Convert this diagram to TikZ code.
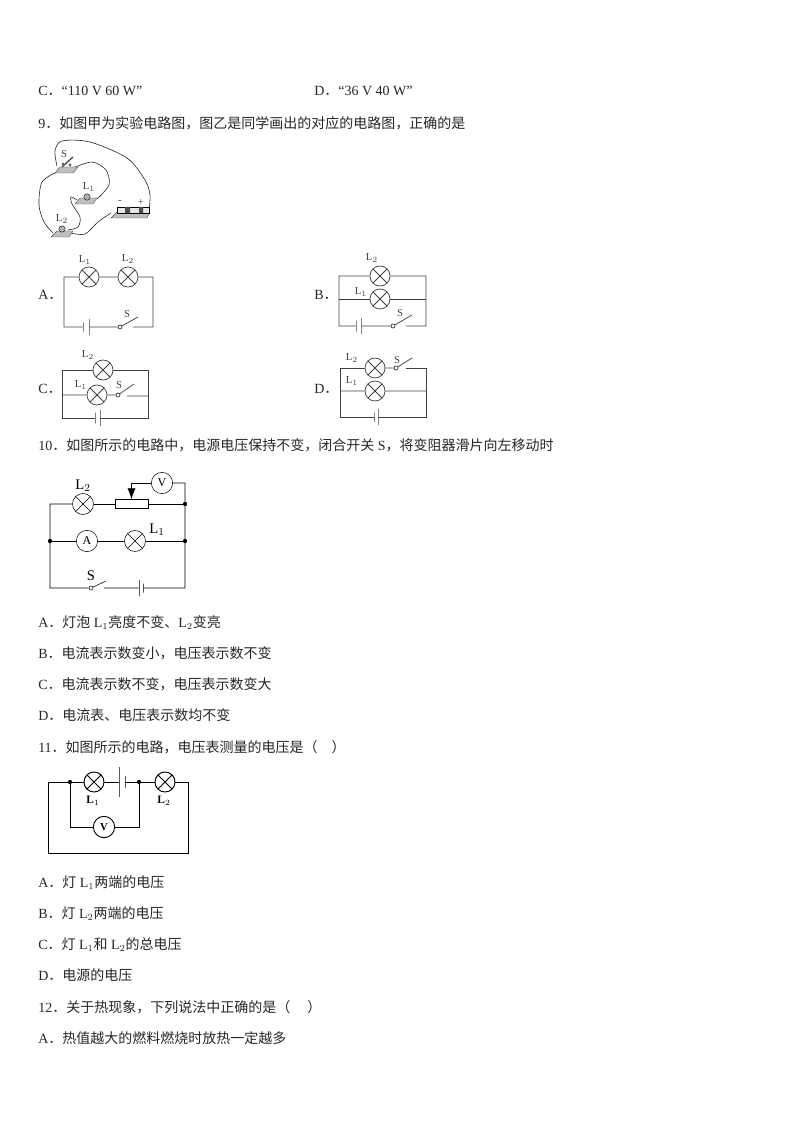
\documentclass[tikz,border=0pt]{standalone}
\usepackage{fontspec}
\setmainfont{Liberation Serif}
\newfontfamily\cjk{Noto Sans CJK SC}
\newfontfamily\lat{Liberation Serif}
\newcommand{\lw}[1]{{\lat #1}}
\usetikzlibrary{arrows.meta}
\tikzset{
  txt/.style={anchor=base west,inner sep=0pt,font=\cjk\fontsize{10.5}{12}\selectfont,text=black!85},
  lab/.style={inner sep=0pt,font=\lat\fontsize{8}{9}\selectfont,text=black!75},
  biglab/.style={inner sep=0pt,font=\lat\fontsize{11}{12}\selectfont},
  wire/.style={line width=.55pt,draw=black!75},
  lamp/.style={circle,draw,inner sep=0pt,minimum size=#1*.75pt,
    path picture={\draw (path picture bounding box.north west)--(path picture bounding box.south east)
      (path picture bounding box.north east)--(path picture bounding box.south west);}},
  lamp/.default=20,
  meter/.style={circle,draw,inner sep=0pt,minimum size=16pt,font=\lat\fontsize{9}{9}\selectfont},
  plate/.style={draw,inner sep=0pt,minimum width=0pt,minimum height=#1*.75pt},
  pivot/.style={circle,draw,fill=white,inner sep=0pt,minimum size=3pt},
  dot/.style={circle,fill=black,inner sep=0pt,minimum size=3.2pt},
  base/.style={draw=black!70,fill=black!25,line width=.3pt},
  lead/.style={line width=.45pt,draw=black!85}
}
\begin{document}
\begin{tikzpicture}[x=.75pt,y=-.75pt]
\useasboundingbox (0,0) rectangle (794,1123);

% text lines
\node[txt] (tc) at (38,96) {\lw{C}．\lw{“110 V 60 W”}};
\node[txt] (td) at (314,96) {\lw{D}．\lw{“36 V 40 W”}};
\node[txt] (t9) at (38,129) {\lw{9}．如图甲为实验电路图，图乙是同学画出的对应的电路图，正确的是};
\node[txt] (ta) at (38,299) {\lw{A}．};
\node[txt] (tb) at (314,299) {\lw{B}．};
\node[txt] (tcc) at (38,393) {\lw{C}．};
\node[txt] (tdd) at (314,393) {\lw{D}．};
\node[txt] (t10) at (38,450) {\lw{10}．如图所示的电路中，电源电压保持不变，闭合开关\lw{ S}，将变阻器滑片向左移动时};
\node[txt] (t10a) at (38,627) {\lw{A}．灯泡\lw{ L$_1$}亮度不变、\lw{L$_2$}变亮};
\node[txt] (t10b) at (38,658) {\lw{B}．电流表示数变小，电压表示数不变};
\node[txt] (t10c) at (38,689) {\lw{C}．电流表示数不变，电压表示数变大};
\node[txt] (t10d) at (38,720) {\lw{D}．电流表、电压表示数均不变};
\node[txt] (t11) at (38,752) {\lw{11}．如图所示的电路，电压表测量的电压是（\quad）};
\node[txt] (t11a) at (38,887) {\lw{A}．灯\lw{ L$_1$}两端的电压};
\node[txt] (t11b) at (38,918) {\lw{B}．灯\lw{ L$_2$}两端的电压};
\node[txt] (t11c) at (38,949) {\lw{C}．灯\lw{ L$_1$}和\lw{ L$_2$}的总电压};
\node[txt] (t11d) at (38,980) {\lw{D}．电源的电压};
\node[txt] (t12) at (38,1012) {\lw{12}．关于热现象，下列说法中正确的是（\quad\ ）};
\node[txt] (t12a) at (38,1043) {\lw{A}．热值越大的燃料燃烧时放热一定越多};

% apparatus sketch
\draw[lead] plot[smooth] coordinates {(57,166)(55,151)(62,141)(90,142)(127,158)(145,180)(150,195)(149,210)};
\draw[lead] plot[smooth] coordinates {(57,172)(42,182)(39,205)(44,222)(53,233)};
\draw[lead] plot[smooth] coordinates {(73,168)(92,162)(106,170)(109,185)(97,199)};
\draw[lead] plot[smooth] coordinates {(77,200)(71,197)(72,204)(80,217)(78,227)(68,230)};
\draw[lead] plot[smooth] coordinates {(70,233)(85,234)(98,222)(111,213)};
\draw[base] (55,173)--(60,167)--(78,167)--(73,173)--cycle;
\draw[base] (75,204)--(80,198)--(97,198)--(93,204)--cycle;
\draw[base] (111,218)--(117,212)--(150,212)--(147,218)--cycle;
\draw[base] (51,237)--(57,231)--(73,231)--(69,237)--cycle;
\draw[black!70,line width=1pt] (62,167)--(73,157);
\fill[black!60] (63,164) circle (1.6) (70,165) circle (1.6);
\draw[fill=black!30,line width=.3pt] (87,197) circle (3.2);
\draw[fill=black!30,line width=.3pt] (62,229) circle (3.2);
\draw[fill=black!10,line width=.4pt] (117,207) rectangle (149,213);
\fill[black!70] (125,207) rectangle (130,213) (139,207) rectangle (143,213);
\node[lab] (ss) at (64,154) {S};
\node[lab] (sl1) at (89,187) {L$_1$};
\node[lab] (sl2) at (62,219) {L$_2$};
\node[lab] (sm) at (120,202) {-};
\node[lab] (sp) at (141,202) {+};

% circuit A
\coordinate (atl) at (64,277); \coordinate (atr) at (153,277);
\coordinate (abl) at (64,327); \coordinate (abr) at (153,327);
\coordinate (atip) at (138,317); \coordinate (agap) at (133,327);
\node[lamp,wire] (al1) at (89,277) {};
\node[lamp,wire] (al2) at (128,277) {};
\node[plate=9,wire] (ab1) at (83,327) {};
\node[plate=16,wire] (ab2) at (89,327) {};
\node[pivot,wire] (as) at (120,327) {};
\node[lab] at (85,260) {L$_1$};
\node[lab] at (128,259) {L$_2$};
\node[lab] at (127,314) {S};
\draw[wire] (al1)--(atl)--(abl)--(ab1) (ab2)--(as)--(atip) (agap)--(abr)--(atr)--(al2) (al1)--(al2);

% circuit B
\coordinate (btl) at (339,276); \coordinate (btr) at (426,276);
\coordinate (bml) at (339,299); \coordinate (bmr) at (426,299);
\coordinate (bbl) at (339,326); \coordinate (bbr) at (426,326);
\coordinate (btip) at (412,315); \coordinate (bgap) at (406,326);
\node[lamp,wire] (bl2) at (380,276) {};
\node[lamp,wire] (bl1) at (380,299) {};
\node[plate=11,wire] (bb1) at (356,326) {};
\node[plate=16,wire] (bb2) at (361,326) {};
\node[pivot,wire] (bs) at (393,326) {};
\node[lab] at (372,258) {L$_2$};
\node[lab] at (361,292) {L$_1$};
\node[lab] at (400,313) {S};
\draw[wire] (bl2)--(btl)--(bbl)--(bb1) (bb2)--(bs)--(btip) (bgap)--(bbr)--(btr)--(bl2);
\draw[wire] (bml)--(bl1)--(bmr);

% circuit C
\coordinate (ctl) at (62,370); \coordinate (ctr) at (148,370);
\coordinate (cml) at (62,395); \coordinate (cmr) at (148,396);
\coordinate (cbl) at (62,418); \coordinate (cbr) at (148,418);
\coordinate (ctip) at (134,384); \coordinate (cgap) at (127,396);
\node[lamp,wire] (cl2) at (103,370) {};
\node[lamp,wire] (cl1) at (97,395) {};
\node[plate=11,wire] (cb1) at (95,418) {};
\node[plate=16,wire] (cb2) at (100,418) {};
\node[pivot,wire] (cs) at (118,395) {};
\node[lab] at (88,355) {L$_2$};
\node[lab] at (81,385) {L$_1$};
\node[lab] at (119,385) {S};
\draw[wire] (cl2)--(ctl)--(cbl)--(cb1) (cb2)--(cbr)--(ctr)--(cl2);
\draw[wire] (cml)--(cl1)--(cs)--(ctip) (cgap)--(cmr);

% circuit D
\coordinate (dtl) at (340,368); \coordinate (dtr) at (426,368);
\coordinate (dml) at (340,391); \coordinate (dmr) at (426,391);
\coordinate (dbl) at (340,417); \coordinate (dbr) at (426,417);
\coordinate (dtip) at (412,358); \coordinate (dgap) at (406,368);
\node[lamp,wire] (dl2) at (375,368) {};
\node[lamp,wire] (dl1) at (375,391) {};
\node[plate=9,wire] (db1) at (374,417) {};
\node[plate=16,wire] (db2) at (378,417) {};
\node[pivot,wire] (ds) at (396,368) {};
\node[lab] at (352,358) {L$_2$};
\node[lab] at (352,381) {L$_1$};
\node[lab] at (397,360) {S};
\draw[wire] (dl2)--(dtl)--(dbl)--(db1) (db2)--(dbr)--(dtr)--(dgap);
\draw[wire] (dl2)--(ds)--(dtip) (dml)--(dl1)--(dmr);

% circuit of question 10
\coordinate (etl) at (50,504); \coordinate (ebl) at (50,588);
\coordinate (ebr) at (185,588); \coordinate (evr) at (185,483);
\coordinate (etip) at (106,581); \coordinate (egap) at (104,588);
\node[dot] (edl) at (50,541) {};
\node[dot] (edt) at (185,504) {};
\node[dot] (edm) at (185,541) {};
\node[lamp=21,draw] (el2) at (83,504) {};
\node[lamp=21,draw] (el1) at (135,541) {};
\node[meter] (ea) at (87,541) {A};
\node[meter] (ev) at (162,483) {V};
\node[draw,inner sep=0pt,minimum width=24.5pt,minimum height=7pt] (erh) at (131.5,504) {};
\node[plate=9,draw] (eb1) at (143,588) {};
\node[plate=16,draw] (eb2) at (139,588) {};
\node[pivot,draw] (es) at (91,588) {};
\node[biglab] at (83,486) {L$_2$};
\node[biglab] at (157,530) {L$_1$};
\node[biglab] at (91,576) {S};
\draw (el2)--(etl)--(ebl)--(es)--(etip) (egap)--(eb2) (eb1)--(ebr)--(evr)--(ev);
\draw (el2)--(erh)--(edt);
\draw (edl)--(ea)--(el1)--(edm);
\draw[-{Latex[length=8pt,width=6pt]}] (ev)-|(erh);

% circuit of question 11
\coordinate (ftl) at (48,782); \coordinate (ftr) at (188,782);
\coordinate (fbl) at (48,853); \coordinate (fbr) at (188,853);
\coordinate (fvl) at (70,827); \coordinate (fvr) at (139,827);
\node[dot] (fd1) at (70,782) {};
\node[dot] (fd2) at (139,782) {};
\node[lamp,draw,line width=.7pt] (fl1) at (94,782) {};
\node[lamp,draw,line width=.7pt] (fl2) at (165,782) {};
\node[plate=30,draw,line width=.7pt] (fb1) at (119,782) {};
\node[plate=12,draw,line width=.7pt] (fb2) at (125,782) {};
\node[meter,line width=.7pt,font=\lat\bfseries\fontsize{8}{9}\selectfont] (fv) at (104,827) {V};
\node[lab,font=\lat\bfseries\fontsize{8.5}{9}\selectfont,text=black] at (93,801) {L$_1$};
\node[lab,font=\lat\bfseries\fontsize{8.5}{9}\selectfont,text=black] at (164,801) {L$_2$};
\draw[line width=.7pt] (fl1)--(ftl)--(fbl)--(fbr)--(ftr)--(fl2)--(fd2)--(fb2) (fb1)--(fl1);
\draw[line width=.7pt] (fd1)--(fvl)--(fv)--(fvr)--(fd2);
\end{tikzpicture}
\end{document}
